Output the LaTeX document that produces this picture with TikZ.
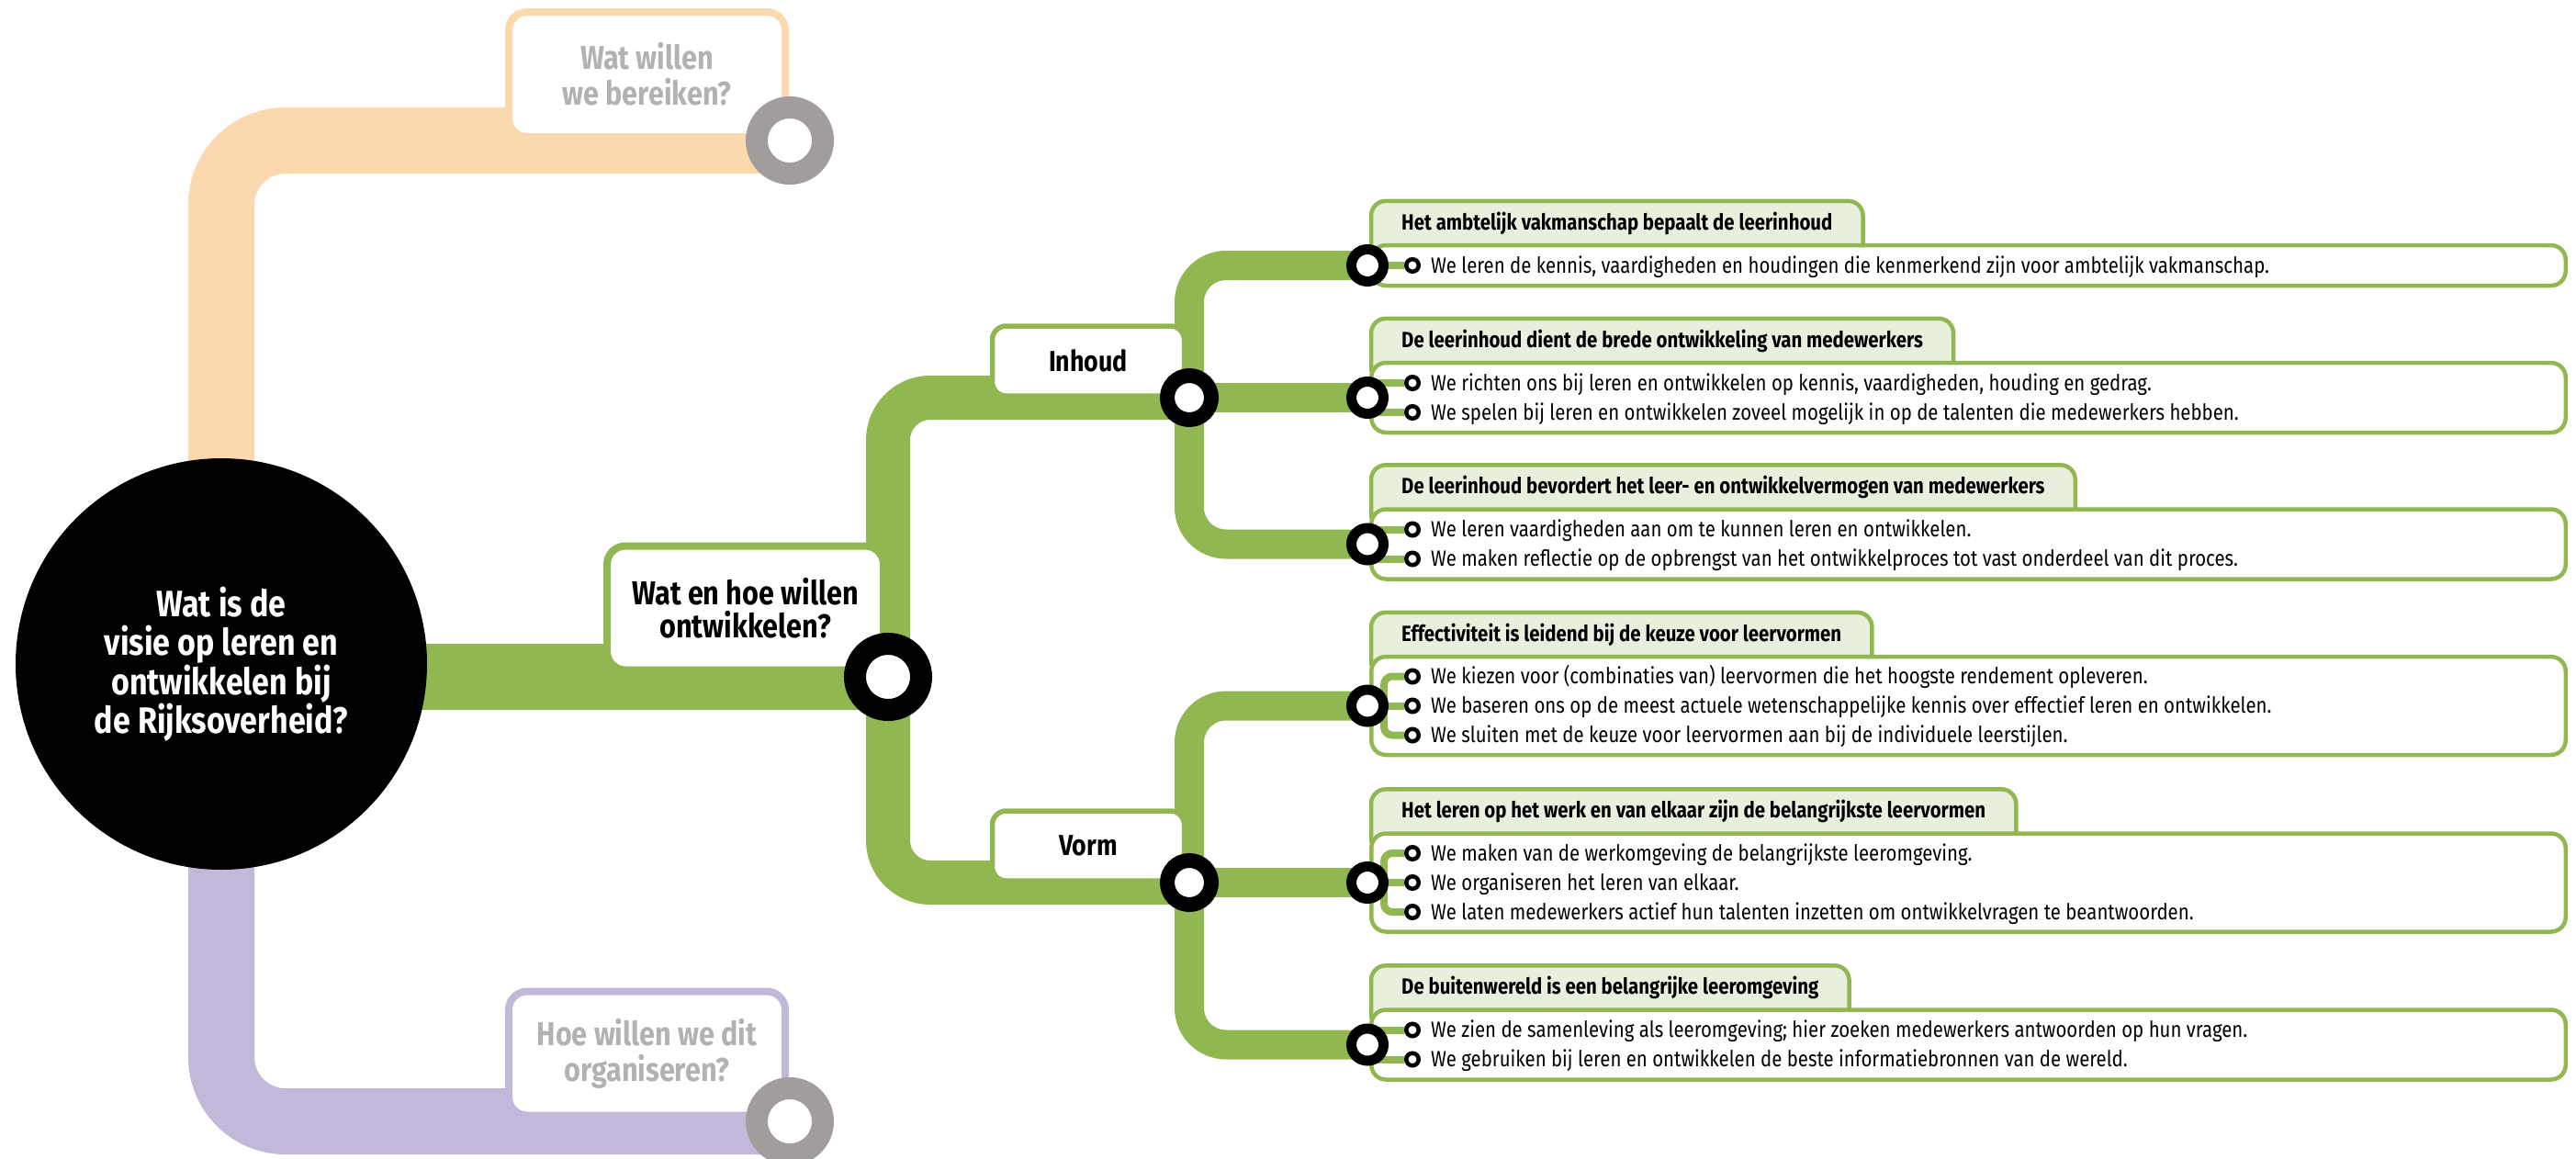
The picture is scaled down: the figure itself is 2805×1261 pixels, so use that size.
\documentclass[tikz,border=0pt]{standalone}
\usepackage{fontspec}
\setmainfont{Fira Sans}[FakeStretch=0.85]
\usetikzlibrary{positioning,backgrounds}
\definecolor{rgreen}{HTML}{91B750}
\definecolor{rpeach}{HTML}{FCD8AF}
\definecolor{rpurple}{HTML}{C1B8DA}
\definecolor{rring}{HTML}{A09D9C}
\definecolor{rhead}{HTML}{E8EFDD}
\definecolor{rgraytext}{HTML}{B2B2B2}
\pgfdeclarelayer{front}
\pgfsetlayers{background,main,front}
\begin{document}
\begin{tikzpicture}[x=1pt,y=-1pt]
      \tikzstyle{every node}+=[inner sep=0pt]
      \tikzstyle{ring}=[circle,draw=black,fill=white]
      \tikzstyle{bigring}=[ring,line width=24pt,minimum size=72pt]
      \tikzstyle{midring}=[ring,line width=16pt,minimum size=48pt]
      \tikzstyle{subring}=[ring,line width=11pt,minimum size=35pt]
      \tikzstyle{bul}=[ring,line width=4.5pt,minimum size=13.5pt]
      \tikzstyle{track1}=[line width=72pt]
      \tikzstyle{track2}=[rgreen,line width=48pt,rounded corners=46pt]
      \tikzstyle{track3}=[rgreen,line width=32pt,rounded corners=40pt]
      \tikzstyle{conn}=[rgreen,line width=8pt,rounded corners=9pt]
      \tikzstyle{qbox}=[draw,fill=white,line width=8pt,rounded corners=20pt,minimum width=301pt,align=center,font=\fontsize{36}{39}\selectfont\bfseries]
      \tikzstyle{subbox}=[draw=rgreen,fill=white,line width=5.5pt,rounded corners=15pt,minimum width=209pt,minimum height=76pt,font=\fontsize{31.5}{32}\selectfont\bfseries]
      \tikzstyle{bodybox}=[draw=rgreen,fill=white,line width=4.5pt,rounded corners=16pt,minimum width=1300.5pt]
      \tikzstyle{hdr}=[anchor=west,inner xsep=33pt,minimum height=46pt,text height=22pt,text depth=5.4pt,font=\fontsize{24}{31}\selectfont\bfseries]
      \tikzstyle{hdrbox}=[draw=rgreen,fill=rhead,line width=4.5pt,rounded corners=16pt]
      \tikzstyle{itemtext}=[text height=22pt,text depth=5.4pt,font=\fontsize{24}{31}\selectfont]
      \useasboundingbox (0,0) rectangle (2805,1261);

      \node[circle,fill=black,minimum size=448pt,text=white,align=center,font=\fontsize{40}{42.5}\selectfont\bfseries] (visie) at (241,723) {Wat is de\\visie op leren en\\ontwikkelen bij\\de Rijksoverheid?};
      \node[qbox,draw=rpeach,text=rgraytext,minimum height=136pt] (bereiken) at (704.5,81) {Wat willen\\we bereiken?};
      \node[qbox,draw=rpurple,text=rgraytext,minimum height=135pt] (organiseren) at (704.5,1147) {Hoe willen we dit\\organiseren?};
      \node[qbox,draw=rgreen,minimum height=135pt,font=\fontsize{36}{36}\selectfont\bfseries] (ontwikkelen) at (811.5,662) {Wat en hoe willen\\ontwikkelen?};
      \node[subbox] (inhoud) at (1185,393) {Inhoud};
      \node[subbox] (vorm) at (1185,921) {Vorm};

      \begin{pgfonlayer}{front}
      \node[bigring] (r0) at (967,737) {};
      \node[bigring,draw=rring] (g1) at (860,153) {};
      \node[bigring,draw=rring] (g2) at (860,1221) {};
      \node[midring] (r1) at (1295,433) {};
      \node[midring] (r2) at (1295,961) {};
      \node[subring] (s1) at (1489,289) {};
      \node[subring] (s2) at (1489,433) {};
      \node[subring] (s3) at (1489,592.5) {};
      \node[subring] (s4) at (1489,768.5) {};
      \node[subring] (s5) at (1489,961) {};
      \node[subring] (s6) at (1489,1137.5) {};
      \node[bul] (b11) at (1538,289) {};
      \node[bul] (b21) at (1538,417) {};
      \node[bul] (b22) at (1538,449) {};
      \node[bul] (b31) at (1538,576.5) {};
      \node[bul] (b32) at (1538,608.5) {};
      \node[bul] (b41) at (1538,736.5) {};
      \node[bul] (b42) at (1538,768.5) {};
      \node[bul] (b43) at (1538,800.5) {};
      \node[bul] (b51) at (1538,929) {};
      \node[bul] (b52) at (1538,961) {};
      \node[bul] (b53) at (1538,993) {};
      \node[bul] (b61) at (1538,1121.5) {};
      \node[bul] (b62) at (1538,1153.5) {};
      \end{pgfonlayer}

      \node[hdr] (h1) at (1493,242) {Het ambtelijk vakmanschap bepaalt de leerinhoud};
      \node[hdr] (h2) at (1493,370) {De leerinhoud dient de brede ontwikkeling van medewerkers};
      \node[hdr] (h3) at (1493,529.5) {De leerinhoud bevordert het leer- en ontwikkelvermogen van medewerkers};
      \node[hdr] (h4) at (1493,690) {Effectiviteit is leidend bij de keuze voor leervormen};
      \node[hdr] (h5) at (1493,882.5) {Het leren op het werk en van elkaar zijn de belangrijkste leervormen};
      \node[hdr] (h6) at (1493,1074.5) {De buitenwereld is een belangrijke leeromgeving};
      \node[bodybox,minimum height=44pt] (body1) at (2143.5,289) {};
      \node[bodybox,minimum height=76pt] (body2) at (2143.5,433) {};
      \node[bodybox,minimum height=76pt] (body3) at (2143.5,592.5) {};
      \node[bodybox,minimum height=107pt] (body4) at (2143.5,768.5) {};
      \node[bodybox,minimum height=107pt] (body5) at (2143.5,961) {};
      \node[bodybox,minimum height=76pt] (body6) at (2143.5,1137.5) {};

      \begin{pgfonlayer}{background}
      \draw[track1,rpeach,rounded corners=70pt] (visie.center) |- (g1.center);
      \draw[track1,rpurple,rounded corners=70pt] (visie.center) |- (g2.center);
      \draw[track1,rgreen] (r0 -| visie) -- (r0.center);
      \draw[track2] (r0.center) |- (r1.center);
      \draw[track2] (r0.center) |- (r2.center);
      \draw[track3] (r1.center) |- (s1.center);
      \draw[track3] (r1.center) -- (s2.center);
      \draw[track3] (r1.center) |- (s3.center);
      \draw[track3] (r2.center) |- (s4.center);
      \draw[track3] (r2.center) -- (s5.center);
      \draw[track3] (r2.center) |- (s6.center);
      \filldraw[hdrbox] ([yshift=-12pt]h1.south west) |- (h1.north east) -- ([yshift=-12pt]h1.south east);
      \filldraw[hdrbox] ([yshift=-12pt]h2.south west) |- (h2.north east) -- ([yshift=-12pt]h2.south east);
      \filldraw[hdrbox] ([yshift=-12pt]h3.south west) |- (h3.north east) -- ([yshift=-12pt]h3.south east);
      \filldraw[hdrbox] ([yshift=-12pt]h4.south west) |- (h4.north east) -- ([yshift=-12pt]h4.south east);
      \filldraw[hdrbox] ([yshift=-12pt]h5.south west) |- (h5.north east) -- ([yshift=-12pt]h5.south east);
      \filldraw[hdrbox] ([yshift=-12pt]h6.south west) |- (h6.north east) -- ([yshift=-12pt]h6.south east);
      \end{pgfonlayer}

      \draw[conn] (s1) -- (b11);
      \draw[conn] (b21 -| s2) -- (b21);
      \draw[conn] (b22 -| s2) -- (b22);
      \draw[conn] (b31 -| s3) -- (b31);
      \draw[conn] (b32 -| s3) -- (b32);
      \draw[conn] (b41) -| ([xshift=18pt]s4.center) |- (b43);
      \draw[conn] (s4) -- (b42);
      \draw[conn] (b51) -| ([xshift=18pt]s5.center) |- (b53);
      \draw[conn] (s5) -- (b52);
      \draw[conn] (b61 -| s6) -- (b61);
      \draw[conn] (b62 -| s6) -- (b62);

      \node[itemtext,right=11pt of b11] (t11) {We leren de kennis, vaardigheden en houdingen die kenmerkend zijn voor ambtelijk vakmanschap.};
      \node[itemtext,right=11pt of b21] (t21) {We richten ons bij leren en ontwikkelen op kennis, vaardigheden, houding en gedrag.};
      \node[itemtext,right=11pt of b22] (t22) {We spelen bij leren en ontwikkelen zoveel mogelijk in op de talenten die medewerkers hebben.};
      \node[itemtext,right=11pt of b31] (t31) {We leren vaardigheden aan om te kunnen leren en ontwikkelen.};
      \node[itemtext,right=11pt of b32] (t32) {We maken reflectie op de opbrengst van het ontwikkelproces tot vast onderdeel van dit proces.};
      \node[itemtext,right=11pt of b41] (t41) {We kiezen voor (combinaties van) leervormen die het hoogste rendement opleveren.};
      \node[itemtext,right=11pt of b42] (t42) {We baseren ons op de meest actuele wetenschappelijke kennis over effectief leren en ontwikkelen.};
      \node[itemtext,right=11pt of b43] (t43) {We sluiten met de keuze voor leervormen aan bij de individuele leerstijlen.};
      \node[itemtext,right=11pt of b51] (t51) {We maken van de werkomgeving de belangrijkste leeromgeving.};
      \node[itemtext,right=11pt of b52] (t52) {We organiseren het leren van elkaar.};
      \node[itemtext,right=11pt of b53] (t53) {We laten medewerkers actief hun talenten inzetten om ontwikkelvragen te beantwoorden.};
      \node[itemtext,right=11pt of b61] (t61) {We zien de samenleving als leeromgeving; hier zoeken medewerkers antwoorden op hun vragen.};
      \node[itemtext,right=11pt of b62] (t62) {We gebruiken bij leren en ontwikkelen de beste informatiebronnen van de wereld.};
    \end{tikzpicture}
\end{document}
